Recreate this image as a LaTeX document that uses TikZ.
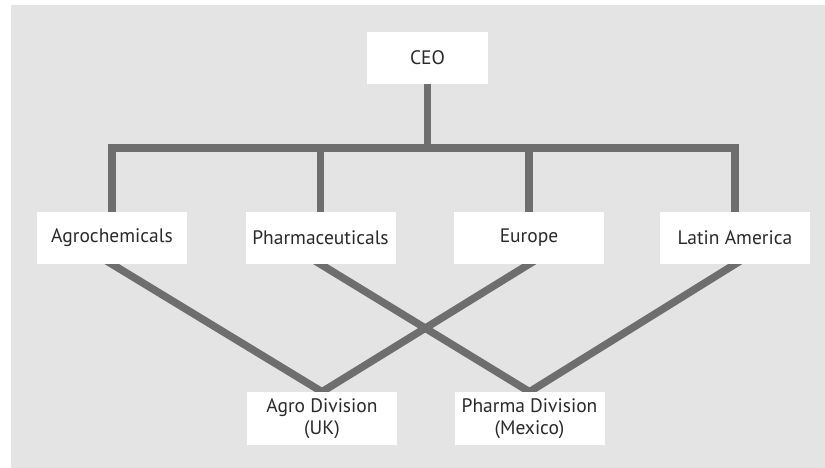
\documentclass[tikz,border=0pt]{standalone}
\usepackage{fontspec}
\setmainfont{PT Sans}
\usetikzlibrary{backgrounds,calc}
\definecolor{panel}{HTML}{E4E4E4}
\definecolor{linkgray}{HTML}{6E6E6E}
\definecolor{textgray}{HTML}{2A2A2A}
\begin{document}
\begin{tikzpicture}[x=1pt,y=-1pt,
  unitbox/.style={fill=white, draw=none, minimum height=52pt, minimum width=150pt,
    inner sep=0pt, align=center, text=textgray,
    font=\fontsize{19.5}{22}\selectfont},
  link/.style={draw=linkgray, line width=7.5pt, line cap=butt, line join=miter,
    shorten <=-6pt, shorten >=-6pt}]
\useasboundingbox (0,0) rectangle (825,468);

% top level
\node[unitbox, minimum width=121pt] (ceo) at (427.5,58) {CEO};

% business and regional units
\node[unitbox] (agro)   at (112,238)   {Agrochemicals};
\node[unitbox] (pharma) at (320.5,238) {Pharmaceuticals};
\node[unitbox] (europe) at (529,238)   {Europe};
\node[unitbox] (latam)  at (735,238)   {Latin America};

% operating divisions
\node[unitbox, minimum height=53pt] (agrodiv)   at (322,418.5)   {Agro Division\\(UK)};
\node[unitbox, minimum height=53pt] (pharmadiv) at (529.5,418.5) {Pharma Division\\(Mexico)};

\begin{scope}[on background layer]
  \fill[panel] (11,5) rectangle (825,468);
  % reporting bar under the CEO, with the two outer drops
  \coordinate (bar) at (0,148);
  \draw[link, shorten <=0pt, shorten >=0pt] (ceo.south) -- (ceo.south |- bar);
  \draw[link] (agro.north) -- (agro.north |- bar) -- (latam.north |- bar) -- (latam.north);
  \draw[link, shorten <=0pt] (pharma.north |- bar) -- (pharma.north);
  \draw[link, shorten <=0pt] (europe.north |- bar) -- (europe.north);
  % matrix links to the divisions
  \draw[link] (agro.south)   -- (agrodiv.north);
  \draw[link] (europe.south) -- (agrodiv.north);
  \draw[link] (pharma.south) -- (pharmadiv.north);
  \draw[link] (latam.south)  -- (pharmadiv.north);
\end{scope}
\end{tikzpicture}
\end{document}
